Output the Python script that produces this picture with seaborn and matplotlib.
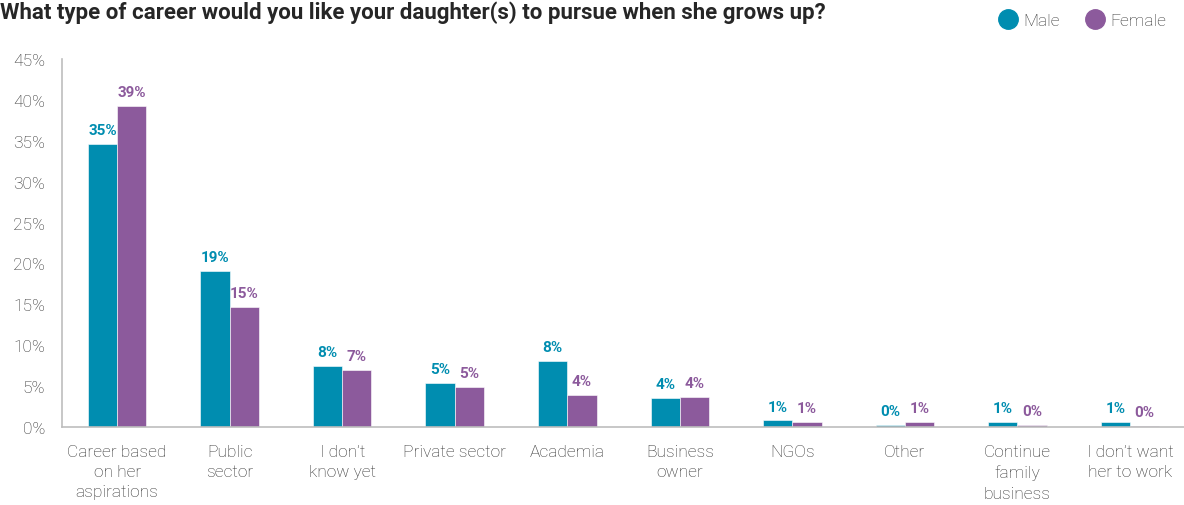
import matplotlib
matplotlib.use("Agg")
import matplotlib.pyplot as plt
from matplotlib.lines import Line2D
import seaborn as sns
import pandas as pd

# Survey data: share of parents by preferred career for their daughter(s)
categories = [
    "Career based\non her\naspirations",
    "Public\nsector",
    "I don\u2019t\nknow yet",
    "Private sector",
    "Academia",
    "Business\nowner",
    "NGOs",
    "Other",
    "Continue\nfamily\nbusiness",
    "I don\u2019t want\nher to work",
]
male = [34.6, 19.1, 7.5, 5.4, 8.1, 3.6, 0.8, 0.3, 0.6, 0.6]
female = [39.2, 14.7, 7.0, 4.9, 3.9, 3.7, 0.6, 0.6, 0.3, 0.1]
series = ["Male", "Female"]
colors = {"Male": "#008db0", "Female": "#8c5a9c"}
yticks = [0, 5, 10, 15, 20, 25, 30, 35, 40, 45]
title = "What type of career would you like your daughter(s) to pursue when she grows up?"

df = pd.DataFrame({
    "category": categories * 2,
    "value": male + female,
    "gender": ["Male"] * len(categories) + ["Female"] * len(categories),
})

sns.set_theme(style="white")
plt.rcParams["font.family"] = ["Roboto", "DejaVu Sans"]

text_gray = "#2f2f2f"
axis_gray = "#bdbdbd"

fig = plt.figure(figsize=(11.84, 5.06), dpi=100)
ax = fig.add_axes([62 / 1184, 1 - 428 / 506, 1 - 62 / 1184, (428 - 60) / 506])

sns.barplot(data=df, x="category", y="value", hue="gender", hue_order=series,
            palette=colors, width=0.52, gap=0, saturation=1, legend=False,
            edgecolor="white", linewidth=0.4, ax=ax)

for container, name in zip(ax.containers, series):
    ax.bar_label(container, labels=[f"{v:.0f}%" for v in container.datavalues],
                 padding=5, color=colors[name], fontsize=11, fontweight="bold")

ax.set_xlim(-0.49, len(categories) - 0.52)
ax.set_ylim(0, 45)
ax.set_yticks(yticks)
ax.set_yticklabels([f"{t}%" for t in yticks])
ax.set_xlabel("")
ax.set_ylabel("")

for side in ("top", "right"):
    ax.spines[side].set_visible(False)
for side in ("left", "bottom"):
    ax.spines[side].set_color(axis_gray)
    ax.spines[side].set_linewidth(1.2)

ax.tick_params(axis="y", length=0, pad=12, labelsize=12.5, labelcolor=text_gray)
ax.tick_params(axis="x", length=0, pad=12, labelsize=12.5, labelcolor=text_gray)
for lbl in ax.get_xticklabels() + ax.get_yticklabels():
    lbl.set_fontweight("light")
for lbl in ax.get_xticklabels():
    lbl.set_linespacing(1.45)

fig.text(0, 1 - 19 / 506, title, fontsize=16, fontweight="bold",
         color="#262626", ha="left", va="baseline")

handles = [Line2D([], [], marker="o", linestyle="", markersize=14,
                  markerfacecolor=colors[s], markeredgecolor=colors[s]) for s in series]
leg = fig.legend(handles, series, loc="center right", bbox_to_anchor=(1 - 9 / 1184, 1 - 21 / 506),
                 ncol=2, frameon=False, fontsize=12.5, handletextpad=0.4,
                 columnspacing=1.5, handlelength=1.0, borderpad=0)
for t in leg.get_texts():
    t.set_color(text_gray)
    t.set_fontweight("light")

fig.savefig("out.png", dpi=100)
